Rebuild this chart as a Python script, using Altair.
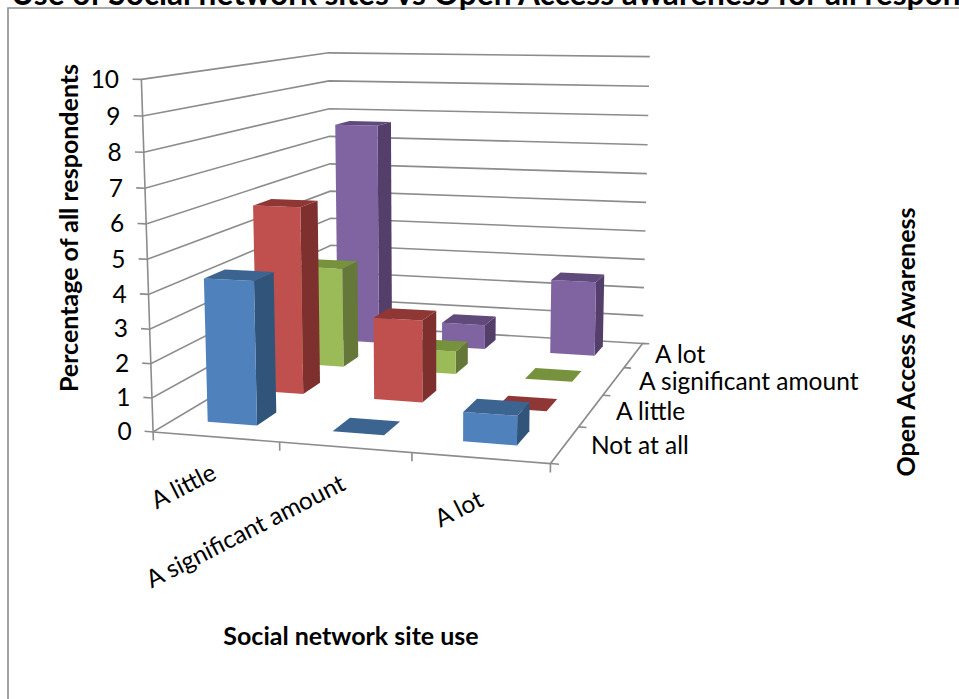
import altair as alt
import numpy as np
import pandas as pd

# Percentages by awareness level (depth rows, front to back) across site use
site_use = ["A little", "A significant amount", "A lot"]
awareness = ["Not at all", "A little", "A significant amount", "A lot"]
not_at_all = [4.25, 0.0, 0.85]
a_little = [5.85, 2.55, 0.0]
a_significant = [3.3, 0.75, 0.0]
a_lot = [7.65, 0.85, 2.55]
series_values = [not_at_all, a_little, a_significant, a_lot]

# Front, side and top shades of each series
front_colors = ["#4F81BD", "#C0504D", "#9BBB59", "#8064A2"]
side_colors = ["#31547B", "#7D302E", "#65783A", "#533F69"]
top_colors = ["#3C6491", "#8F3735", "#76923C", "#604A7B"]

WIDTH, HEIGHT = 959, 699
AXIS_MAX = 10
BAR_SHARE = 0.4
BAR_SHIFT_U = -0.009
BAR_SHIFT_V = 0.02
GRID = "#8C8C8C"
FONT = "Lato"

# Camera: (site use, depth, height) in unit cube -> canvas pixels
cube = [(0, 0, 0), (1, 0, 0), (1, 1, 0), (0, 1, 0), (0, 0, 1), (1, 1, 1), (0, 1, 1)]
canvas = [(152, 430), (551, 465), (642, 342), (333, 327), (142, 80), (650, 57), (328, 52)]
rows, rhs = [], []
for (u, v, h), (px, py) in zip(cube, canvas):
    rows.append([u, v, h, 1, 0, 0, 0, 0, -px * u, -px * v, -px * h])
    rows.append([0, 0, 0, 0, u, v, h, 1, -py * u, -py * v, -py * h])
    rhs += [px, py]
coef = np.linalg.lstsq(np.array(rows, float), np.array(rhs, float), rcond=None)[0]
camera = np.append(coef, 1.0).reshape(3, 4)


def project(u, v, h):
    x, y, w = camera @ np.array([u, v, h, 1.0])
    return x / w, y / w


# Wall, floor and tick lines
lines = []


def add_line(points):
    idx = len({r["id"] for r in lines})
    for i, (x, y) in enumerate(points):
        lines.append({"id": idx, "i": i, "x": x, "y": y})


for tick in range(AXIS_MAX + 1):
    h = tick / AXIS_MAX
    add_line([project(-0.023, 0, h), project(0, 0, h), project(0, 1, h), project(1, 1, h)])
add_line([project(0, 0, 0), project(0, 0, 1)])
add_line([project(0, 0, 0), project(1, 0, 0), project(1, 1, 0), project(1.02, 1, 0)])
for c in range(len(site_use) + 1):
    u = c / len(site_use)
    add_line([project(u, 0, 0), project(u, 0, -0.025)])
for d in range(len(awareness)):
    v = d / len(awareness)
    add_line([project(1, v, 0), project(1.02, v, 0)])

# Bar faces, painted from the back row forward and left to right
faces = []


def add_face(points, color):
    idx = len({r["face"] for r in faces})
    for i, (x, y) in enumerate(points):
        faces.append({"face": f"f{idx:03d}", "i": i, "x": x, "y": y, "color": color})


n_u, n_v = len(site_use), len(awareness)
for d in reversed(range(n_v)):
    for c in range(n_u):
        value = series_values[d][c]
        h = value / AXIS_MAX
        u0 = (c + 0.5 - BAR_SHARE / 2) / n_u + BAR_SHIFT_U
        u1 = (c + 0.5 + BAR_SHARE / 2) / n_u + BAR_SHIFT_U
        v0 = (d + 0.5 - BAR_SHARE / 2) / n_v + BAR_SHIFT_V
        v1 = (d + 0.5 + BAR_SHARE / 2) / n_v + BAR_SHIFT_V
        if value > 0:
            add_face([project(u1, v0, 0), project(u1, v1, 0), project(u1, v1, h), project(u1, v0, h)], side_colors[d])
            add_face([project(u0, v0, 0), project(u1, v0, 0), project(u1, v0, h), project(u0, v0, h)], front_colors[d])
        add_face([project(u0, v0, h), project(u1, v0, h), project(u1, v1, h), project(u0, v1, h)], top_colors[d])

x_scale = alt.Scale(domain=[0, WIDTH], range=[0, WIDTH])
y_scale = alt.Scale(domain=[0, HEIGHT], range=[0, HEIGHT])
X = alt.X("x:Q", scale=x_scale, axis=None)
Y = alt.Y("y:Q", scale=y_scale, axis=None)

frame_df = pd.DataFrame({"x": [8, 8, WIDTH], "y": [HEIGHT, 8, 8], "i": [0, 1, 2]})
frame = alt.Chart(frame_df).mark_line(color="#8E8E8E", strokeWidth=1.6).encode(x=X, y=Y, order="i:Q")

grid = alt.Chart(pd.DataFrame(lines)).mark_line(color=GRID, strokeWidth=1.6).encode(
    x=X, y=Y, detail="id:N", order="i:Q"
)

bars = alt.Chart(pd.DataFrame(faces)).mark_line(
    interpolate="linear-closed", filled=True, strokeWidth=0
).encode(
    x=X,
    y=Y,
    detail="face:N",
    order="i:Q",
    fill=alt.Fill("color:N", scale=None),
)


def label(text, x, y, size=24.5, bold=False, angle=0, align="center"):
    kwargs = {"fontWeight": "bold"} if bold else {}
    return alt.Chart(pd.DataFrame({"x": [x], "y": [y], "t": [text]})).mark_text(
        font=FONT, fontSize=size, angle=angle, align=align, baseline="alphabetic",
        color="#000000", **kwargs
    ).encode(x=X, y=Y, text="t:N")


texts = [label("Use of Social network sites vs Open Access awareness for all respondents", 11, 5, size=31.6, bold=True, align="left")]
# Value labels follow the tilt of the vertical axis
for tick in range(AXIS_MAX + 1):
    tx, ty = project(-0.058, 0, tick / AXIS_MAX)
    texts.append(label(str(tick), tx, ty + 9.5, align="right"))
texts.append(label("Percentage of all respondents", 78, 228, size=25, bold=True, angle=270))
texts.append(label("Open Access Awareness", 915, 342, size=25, bold=True, angle=270))
texts.append(label("Social network site use", 351, 645, size=25, bold=True))
texts.append(label("A little", 218, 478, angle=333, align="right"))
texts.append(label("A significant amount", 347, 489, angle=333, align="right"))
texts.append(label("A lot", 485, 505, angle=333, align="right"))
texts.append(label("A lot", 655, 363, align="left"))
texts.append(label("A significant amount", 639, 390, align="left"))
texts.append(label("A little", 616, 420, align="left"))
texts.append(label("Not at all", 591, 454, align="left"))

chart = alt.layer(frame, grid, bars, *texts).properties(
    width=WIDTH,
    height=HEIGHT,
    padding=0,
    autosize=alt.AutoSizeParams(type="none"),
    background="#FFFFFF",
).configure_view(stroke=None)

chart.save("out.html", embed_options={"renderer": "svg", "actions": False})
